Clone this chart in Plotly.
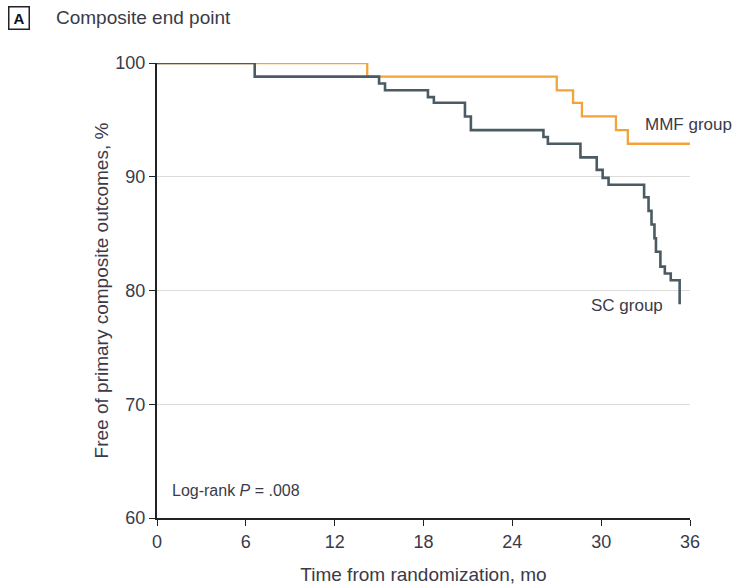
import plotly.graph_objects as go

# Kaplan-Meier step coordinates (months, % free of events)
mmf_time = [0, 14.2, 27.0, 28.1, 28.7, 31.0, 31.8, 36.0]
mmf_surv = [100, 98.8, 97.6, 96.5, 95.3, 94.1, 92.9, 92.9]

sc_time = [0, 6.6, 15.0, 15.4, 18.3, 18.7, 20.8, 21.2, 26.1, 26.4, 28.6, 29.7,
           30.1, 30.5, 32.9, 33.2, 33.4, 33.6, 33.7, 34.0, 34.3, 34.7, 35.3]
sc_surv = [100, 98.8, 98.2, 97.6, 97.0, 96.5, 95.3, 94.1, 93.5, 92.9, 91.7, 90.6,
           89.9, 89.3, 88.2, 87.0, 85.8, 84.6, 83.4, 82.1, 81.5, 80.9, 78.8]

x_ticks = [0, 6, 12, 18, 24, 30, 36]
y_ticks = [60, 70, 80, 90, 100]

FONT = "Liberation Sans, Arial, sans-serif"
TEXT = "#3a3a4a"
ORANGE = "#F2A33A"
SLATE = "#4B5B63"

fig = go.Figure()
fig.add_trace(go.Scatter(x=mmf_time, y=mmf_surv, mode="lines", line_shape="hv",
                         line=dict(color=ORANGE, width=2.3), name="MMF group"))
fig.add_trace(go.Scatter(x=sc_time, y=sc_surv, mode="lines", line_shape="hv",
                         line=dict(color=SLATE, width=2.6), name="SC group"))

fig.update_layout(
    width=738, height=588,
    margin=dict(l=157, r=48, t=63, b=70),
    paper_bgcolor="white", plot_bgcolor="white",
    showlegend=False,
    font=dict(family=FONT, color=TEXT, size=17),
    xaxis=dict(range=[0, 36], tickvals=x_ticks, ticktext=[str(v) for v in x_ticks],
               automargin=False,
               showgrid=False, zeroline=False, showline=True, linecolor="#222",
               linewidth=2, ticks="outside", ticklen=6, tickcolor="#222",
               tickfont=dict(size=18, color=TEXT),
               title=dict(text="Time from randomization, mo", standoff=17,
                          font=dict(size=19, color=TEXT))),
    yaxis=dict(range=[60, 100], tickvals=y_ticks, ticktext=[str(v) for v in y_ticks],
               automargin=False,
               showgrid=True, gridcolor="#dcdcdc", gridwidth=1.2, zeroline=False,
               showline=True, linecolor="#222", linewidth=2, ticks="outside",
               ticklen=6, tickcolor="#222", tickfont=dict(size=18, color=TEXT),
               title=dict(text="Free of primary composite outcomes, %", standoff=2,
                          font=dict(size=19, color=TEXT))),
)

fig.add_annotation(xref="paper", yref="paper", x=0.912, y=0.864, xanchor="left",
                   yanchor="middle", text="MMF group", showarrow=False,
                   font=dict(size=17, color=TEXT))
fig.add_annotation(x=29.2, y=79.7, xanchor="left", yanchor="top",
                   text="SC group", showarrow=False, font=dict(size=17, color=TEXT))
fig.add_annotation(x=0.9, y=61.5, xanchor="left", yanchor="bottom",
                   text="Log-rank <i>P</i> = .008", showarrow=False,
                   font=dict(size=16, color=TEXT))

# Panel label
fig.add_annotation(xref="paper", yref="paper", x=-0.28, y=1.099, xanchor="left",
                   yanchor="middle", text="<b>A</b>", showarrow=False,
                   bordercolor="#222", borderwidth=1.5, borderpad=2, width=15,
                   font=dict(size=15, color="#111"))
fig.add_annotation(xref="paper", yref="paper", x=-0.193, y=1.099, xanchor="left",
                   yanchor="middle", text="Composite end point", showarrow=False,
                   font=dict(size=19, color=TEXT))

fig.write_html("out.html")
